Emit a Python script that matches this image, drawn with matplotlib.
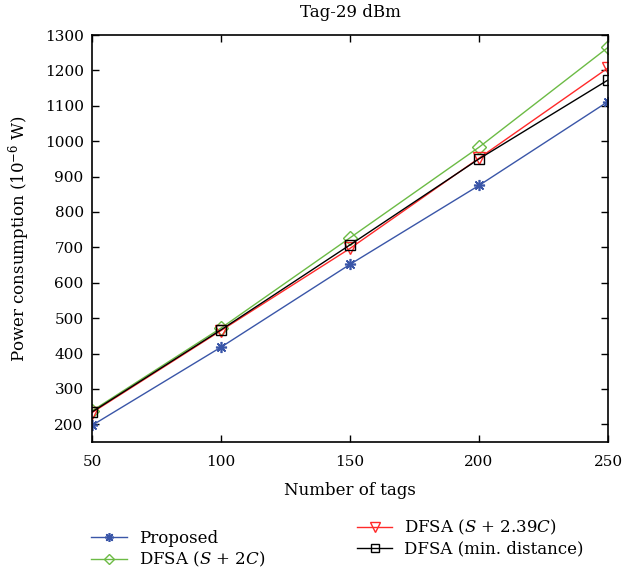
import matplotlib
matplotlib.use("Agg")
import matplotlib.pyplot as plt

plt.rcParams['font.family'] = ['DejaVu Serif']
plt.rcParams['mathtext.fontset'] = 'dejavuserif'

tags = [50, 100, 150, 200, 250]
proposed = [197, 418, 652, 875, 1112]
dfsa_2c = [238, 472, 727, 983, 1265]
dfsa_239c = [233, 465, 697, 952, 1207]
dfsa_min = [235, 467, 707, 950, 1173]

fig = plt.figure(figsize=(6.23, 5.71), dpi=100)
ax = fig.add_axes([0.1477, 0.2259, 0.976 - 0.1477, 0.9387 - 0.2259])

l1, = ax.plot(tags, proposed, color='#3A56A8', marker=(8, 2, 0), markersize=8, lw=1,
              mew=1.2, label='Proposed')
l2, = ax.plot(tags, dfsa_2c, color='#6CBB45', marker='D', markersize=7, mfc='none', lw=1,
              label='DFSA ($S$ + 2$C$)')
l3, = ax.plot(tags, dfsa_239c, color='#FF2A2A', marker='v', markersize=9, mfc='none', lw=1,
              label='DFSA ($S$ + 2.39$C$)')
l4, = ax.plot(tags, dfsa_min, color='black', marker='s', markersize=6.5, mfc='none', lw=1,
              label='DFSA (min. distance)')

ax.set_xlim(50, 250)
ax.set_ylim(150, 1300)
ax.set_xticks([50, 100, 150, 200, 250])
ax.set_yticks(list(range(200, 1301, 100)))
ax.tick_params(direction='in', top=True, right=True, labelsize=11, length=5, width=1)
ax.tick_params(axis='x', pad=9)
ax.tick_params(axis='y', pad=6)
for s in ax.spines.values():
    s.set_linewidth(1.2)
ax.set_title('Tag-29 dBm', fontsize=12, pad=13)
ax.set_xlabel('Number of tags', fontsize=12, labelpad=10)
ax.set_ylabel('Power consumption (10$^{-6}$ W)', fontsize=12, labelpad=9)

fig.legend(handles=[l1, l2], loc='upper left', bbox_to_anchor=(0.133, 0.087),
           frameon=False, fontsize=12, handlelength=2.15, labelspacing=0.2,
           borderpad=0, handletextpad=0.7, markerscale=0.8)
fig.legend(handles=[l3, l4], loc='upper left', bbox_to_anchor=(0.559, 0.107),
           frameon=False, fontsize=12, handlelength=2.15, labelspacing=0.2,
           borderpad=0, handletextpad=0.7, markerscale=0.8)

fig.savefig('out.png', dpi=100)
